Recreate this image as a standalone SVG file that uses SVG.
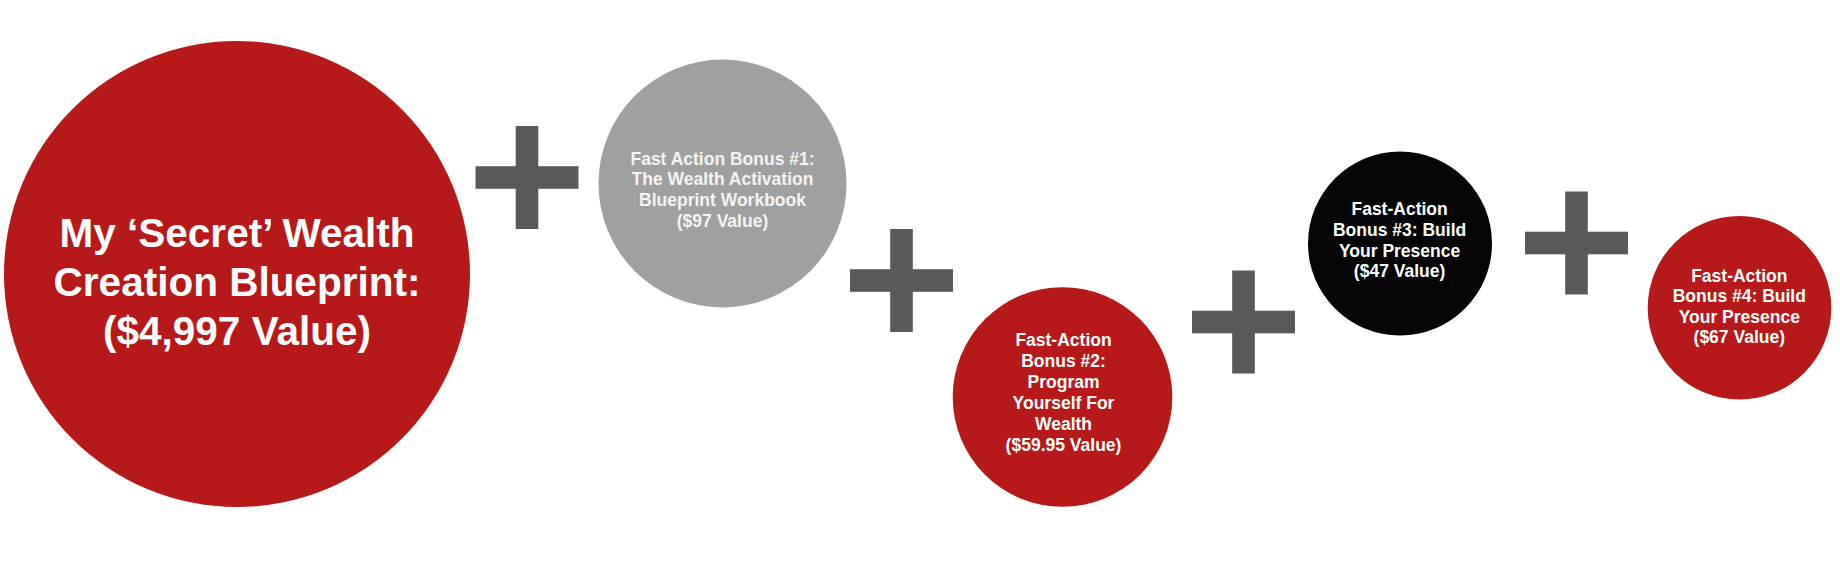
<svg xmlns="http://www.w3.org/2000/svg" width="1840" height="567" viewBox="0 0 1840 567">
<style>
.red{fill:#B71918}
.grey{fill:#A0A0A0}
.black{fill:#050505}
.plus{fill:#595959}
.t{font-family:"Liberation Sans",Arial,sans-serif;font-weight:bold;text-anchor:middle;fill:#FFFFFF}
.s{font-size:17.5px}
.b{font-size:40.5px}
.lg{fill:#F4F4F4}
</style>
<defs>
<g id="plusShape">
<rect x="-51.5" y="-11.3" width="103" height="22.6"/>
<rect x="-11.3" y="-51.5" width="22.6" height="103"/>
</g>
</defs>
<g id="connectors">
<use href="#plusShape" class="plus" transform="translate(527,177.5)"/>
<use href="#plusShape" class="plus" transform="translate(901.5,280.5)"/>
<use href="#plusShape" class="plus" transform="translate(1243.5,322)"/>
<use href="#plusShape" class="plus" transform="translate(1576.5,243)"/>
</g>
<g id="main">
<circle class="red" cx="237" cy="274" r="233"/>
<text class="t b" x="237" y="247">My ‘Secret’ Wealth</text>
<text class="t b" x="237" y="296">Creation Blueprint:</text>
<text class="t b" x="237" y="344.5">($4,997 Value)</text>
</g>
<g id="bonus1">
<circle class="grey" cx="722.5" cy="183.5" r="124"/>
<text class="t s lg" x="722.5" y="164.5">Fast Action Bonus #1:</text>
<text class="t s lg" x="722.5" y="185.2">The Wealth Activation</text>
<text class="t s lg" x="722.5" y="205.9">Blueprint Workbook</text>
<text class="t s lg" x="722.5" y="226.6">($97 Value)</text>
</g>
<g id="bonus2">
<circle class="red" cx="1062.5" cy="397" r="109.8"/>
<text class="t s" x="1063.5" y="346">Fast-Action</text>
<text class="t s" x="1063.5" y="367">Bonus #2:</text>
<text class="t s" x="1063.5" y="388">Program</text>
<text class="t s" x="1063.5" y="409">Yourself For</text>
<text class="t s" x="1063.5" y="430">Wealth</text>
<text class="t s" x="1063.5" y="451">($59.95 Value)</text>
</g>
<g id="bonus3">
<circle class="black" cx="1400" cy="243.5" r="92"/>
<text class="t s" x="1399.6" y="215">Fast-Action</text>
<text class="t s" x="1399.6" y="235.8">Bonus #3: Build</text>
<text class="t s" x="1399.6" y="256.6">Your Presence</text>
<text class="t s" x="1399.6" y="277.4">($47 Value)</text>
</g>
<g id="bonus4">
<circle class="red" cx="1739.5" cy="307.8" r="91.8"/>
<text class="t s" x="1739.3" y="281.5">Fast-Action</text>
<text class="t s" x="1739.3" y="302">Bonus #4: Build</text>
<text class="t s" x="1739.3" y="322.5">Your Presence</text>
<text class="t s" x="1739.3" y="343">($67 Value)</text>
</g>
</svg>
